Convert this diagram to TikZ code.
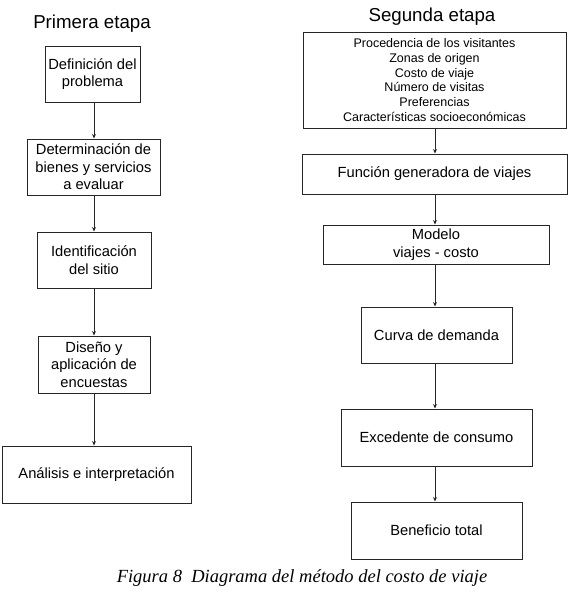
\documentclass[tikz,border=0pt]{standalone}
\usepackage{fontspec}
\newfontfamily\boxfont{Liberation Sans}
\newfontfamily\capfont{Liberation Serif}
\usetikzlibrary{arrows.meta}
\begin{document}
\begin{tikzpicture}[x=1pt,y=-1pt,
  box/.style={draw=black!85, line width=1pt, align=center, inner sep=0pt,
    font=\boxfont\fontsize{14.7}{17.5}\selectfont},
  listbox/.style={box, font=\boxfont\fontsize{12.5}{14.8}\selectfont},
  title/.style={font=\boxfont\fontsize{18.7}{22}\selectfont},
  arr/.style={draw=black!85, line width=0.9pt, -{Stealth[length=4.5pt,width=4pt]}}]
\useasboundingbox (0,0) rectangle (573,598);
% titles
\node[title] (t1) at (92,24) {Primera etapa};
\node[title] (t2) at (432,17) {Segunda etapa};
% left column
\node[box, minimum width=95pt, minimum height=56pt] (L1) at (92.5,74) {Definición del\\problema};
\node[box, minimum width=133pt, minimum height=56pt] (L2) at (93.5,167) {Determinación de\\bienes y servicios\\a evaluar};
\node[box, minimum width=114pt, minimum height=56pt] (L3) at (94,260) {Identificación\\del sitio};
\node[box, minimum width=112pt, minimum height=57pt] (L4) at (94,364.5) {Diseño y\\aplicación de\\encuestas};
\node[box, minimum width=189pt, minimum height=57pt] (L5) at (96.5,474.5) {Análisis e interpretación};
\coordinate (ax) at (94,0);
\draw[arr] (L1.south -| ax) -- (L2.north -| ax);
\draw[arr] (L2.south -| ax) -- (L3.north -| ax);
\draw[arr] (L3.south -| ax) -- (L4.north -| ax);
\draw[arr] (L4.south -| ax) -- (L5.north -| ax);
% right column
\node[listbox, minimum width=263pt, minimum height=96pt] (R1) at (434.5,80) {Procedencia de los visitantes\\Zonas de origen\\Costo de viaje\\Número de visitas\\Preferencias\\Características socioeconómicas};
\node[box, minimum width=265pt, minimum height=40pt] (R2) at (434.5,174) {Función generadora de viajes};
\node[box, minimum width=226pt, minimum height=39pt, font=\boxfont\fontsize{14.7}{18.5}\selectfont] (R3) at (436,244.5) {Modelo\\viajes - costo};
\node[box, minimum width=151pt, minimum height=56pt] (R4) at (436.5,335) {Curva de demanda};
\node[box, minimum width=191pt, minimum height=57pt] (R5) at (436.5,437.5) {Excedente de consumo};
\node[box, minimum width=171pt, minimum height=57pt] (R6) at (436.5,530.5) {Beneficio total};
\coordinate (bx) at (435,0);
\draw[arr] (R1.south -| bx) -- (R2.north -| bx);
\draw[arr] (R2.south -| bx) -- (R3.north -| bx);
\draw[arr] (R3.south -| bx) -- (R4.north -| bx);
\draw[arr] (R4.south -| bx) -- (R5.north -| bx);
\draw[arr] (R5.south -| bx) -- (R6.north -| bx);
% caption
\node[font=\capfont\itshape\fontsize{18.5}{22}\selectfont] (cap) at (302,578) {Figura 8\ \ Diagrama del método del costo de viaje};
\end{tikzpicture}
\end{document}
